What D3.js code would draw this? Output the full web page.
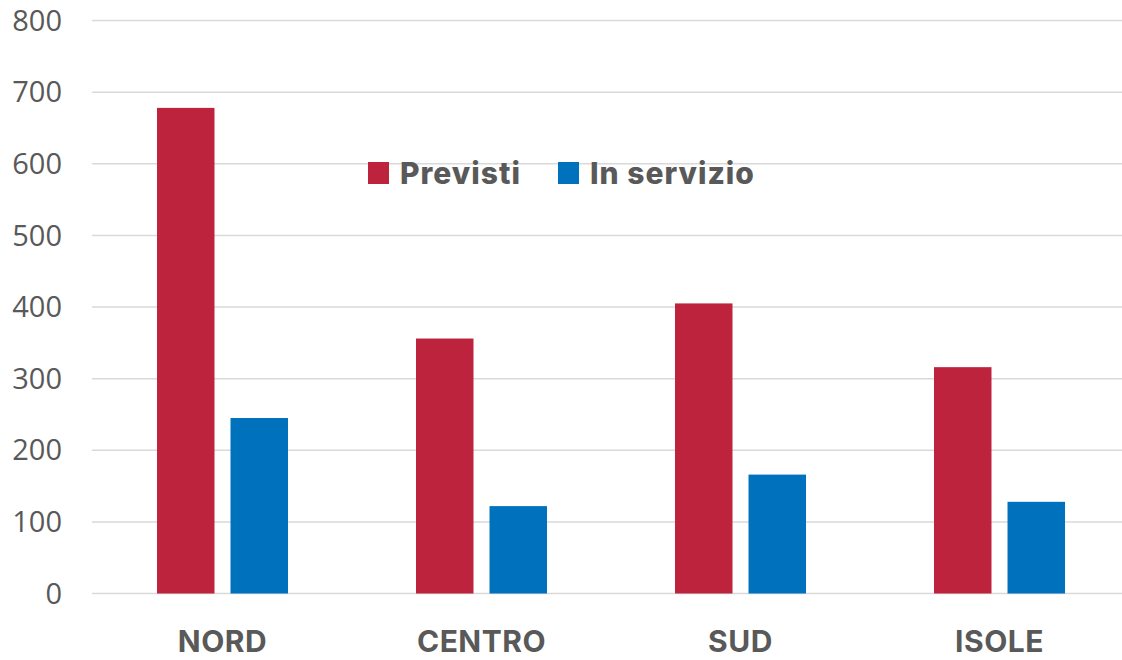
<!DOCTYPE html>
<meta charset="UTF-8">
<style>
	body { margin: 0; background: #fff; }
	.grid line { stroke: #d9d9d9; stroke-width: 1.5px; }
	.tick-label { font: 29px "Open Sans", sans-serif; fill: #595959; }
	.cat-label { font: 700 30px Inter, sans-serif; fill: #595959; letter-spacing: 0.5px; }
	.legend text { font: 800 30px Inter, sans-serif; fill: #595959; letter-spacing: 1px; }
</style>
<body>
<script src="https://d3js.org/d3.v7.min.js"></script>
<script>

	// chart data
	const categories = ["NORD", "CENTRO", "SUD", "ISOLE"];
	const seriesNames = ["Previsti", "In servizio"];
	const previsti = [678, 356, 405, 316];
	const inServizio = [245, 122, 166, 128];
	const yTicks = [0, 100, 200, 300, 400, 500, 600, 700, 800];
	const colors = ["#be233d", "#0071bd"];

	const width = 1122, height = 660;

	const svg = d3.select("body").append("svg")
		.attr("width", width)
		.attr("height", height);

	const y = d3.scaleLinear().domain([0, 800]).range([593.5, 20.5]);
	const x0 = d3.scaleBand().domain(categories).range([93, 1129]);
	const x1 = d3.scaleBand().domain(seriesNames).range([64, 195]).paddingInner(0.218);

	// gridlines
	svg.append("g").attr("class", "grid")
		.selectAll("line")
		.data(yTicks)
		.join("line")
		.attr("x1", 92)
		.attr("x2", width)
		.attr("y1", d => y(d))
		.attr("y2", d => y(d));

	// y tick labels
	svg.append("g")
		.selectAll("text")
		.data(yTicks)
		.join("text")
		.attr("class", "tick-label")
		.attr("x", 62)
		.attr("y", d => y(d))
		.attr("dy", "0.35em")
		.attr("text-anchor", "end")
		.text(d => d);

	// bars
	const rows = categories.map((c, i) => ({ cat: c, values: [previsti[i], inServizio[i]] }));

	const groups = svg.append("g")
		.selectAll("g")
		.data(rows)
		.join("g")
		.attr("transform", d => `translate(${x0(d.cat)},0)`);

	groups.selectAll("rect")
		.data(d => d.values.map((v, j) => ({ name: seriesNames[j], value: v, j: j })))
		.join("rect")
		.attr("x", d => x1(d.name))
		.attr("width", x1.bandwidth())
		.attr("y", d => y(d.value))
		.attr("height", d => y(0) - y(d.value))
		.attr("fill", d => colors[d.j]);

	// category labels
	svg.append("g")
		.selectAll("text")
		.data(categories)
		.join("text")
		.attr("class", "cat-label")
		.attr("x", d => x0(d) + 64 + 131 / 2)
		.attr("y", 652)
		.attr("text-anchor", "middle")
		.text(d => d);

	// legend
	const legendX = [368, 558];
	const legend = svg.append("g").attr("class", "legend")
		.selectAll("g")
		.data(seriesNames)
		.join("g")
		.attr("transform", (d, i) => `translate(${legendX[i]},162)`);

	legend.append("rect")
		.attr("width", 21)
		.attr("height", 22)
		.attr("fill", (d, i) => colors[i]);

	legend.append("text")
		.attr("x", 32)
		.attr("y", 21.5)
		.text(d => d);

</script>
</body>
